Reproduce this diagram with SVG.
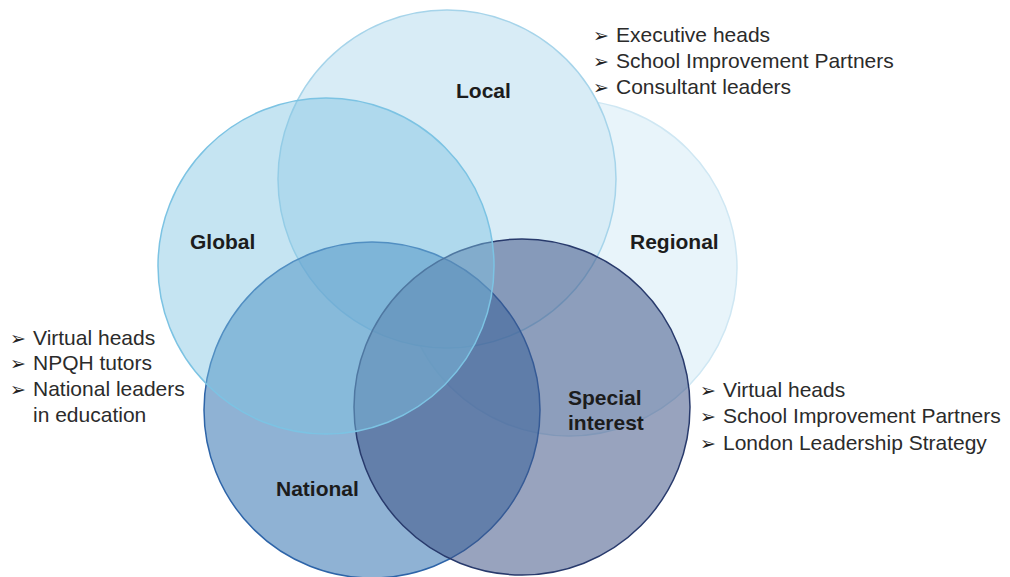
<svg xmlns="http://www.w3.org/2000/svg" width="1010" height="577" viewBox="0 0 1010 577">
<style>
.lbl{font-family:"Liberation Sans",Arial,sans-serif;font-weight:bold;font-size:21px;fill:#1c1c1c}
.itm{font-family:"Liberation Sans",Arial,sans-serif;font-size:21px;fill:#2b2b2b}
.bul{font-family:"DejaVu Sans",sans-serif;font-size:19px;fill:#222}
</style>
<rect width="1010" height="577" fill="#ffffff"/>
<g id="regional"><circle cx="569" cy="268" r="168" fill="#e8f4fa" stroke="#cfe7f3" stroke-width="1.5"/></g>
<g id="local"><circle cx="447" cy="179" r="169" fill="#d8ecf6" stroke="#a6d4ea" stroke-width="1.5"/></g>
<g id="national"><circle cx="372" cy="410" r="168" fill="rgb(68,127,183)" fill-opacity="0.6" stroke="#2d64a8" stroke-width="1.5"/></g>
<g id="special"><circle cx="522" cy="407" r="168" fill="rgb(61,81,132)" fill-opacity="0.53" stroke="#283a6c" stroke-width="1.5"/></g>
<g id="global"><circle cx="326" cy="266" r="168" fill="rgb(126,195,226)" fill-opacity="0.45" stroke="#7cc3e3" stroke-width="1.5"/></g>
<g id="labels">
<text class="lbl" x="456" y="98">Local</text>
<text class="lbl" x="190" y="249">Global</text>
<text class="lbl" x="630" y="249">Regional</text>
<text class="lbl" x="276" y="496">National</text>
<text class="lbl" x="568" y="405">Special</text>
<text class="lbl" x="568" y="430">interest</text>
</g>
<g id="list-local">
<text class="bul" x="593" y="42">➢</text><text class="itm" x="616" y="42">Executive heads</text>
<text class="bul" x="593" y="68">➢</text><text class="itm" x="616" y="68">School Improvement Partners</text>
<text class="bul" x="593" y="94">➢</text><text class="itm" x="616" y="94">Consultant leaders</text>
</g>
<g id="list-national">
<text class="bul" x="10" y="345">➢</text><text class="itm" x="33" y="345">Virtual heads</text>
<text class="bul" x="10" y="370">➢</text><text class="itm" x="33" y="370">NPQH tutors</text>
<text class="bul" x="10" y="396">➢</text><text class="itm" x="33" y="396">National leaders</text>
<text class="itm" x="33" y="422">in education</text>
</g>
<g id="list-special">
<text class="bul" x="700" y="397">➢</text><text class="itm" x="723" y="397">Virtual heads</text>
<text class="bul" x="700" y="423">➢</text><text class="itm" x="723" y="423">School Improvement Partners</text>
<text class="bul" x="700" y="450">➢</text><text class="itm" x="723" y="450">London Leadership Strategy</text>
</g>
<g id="connectors"></g>
</svg>
